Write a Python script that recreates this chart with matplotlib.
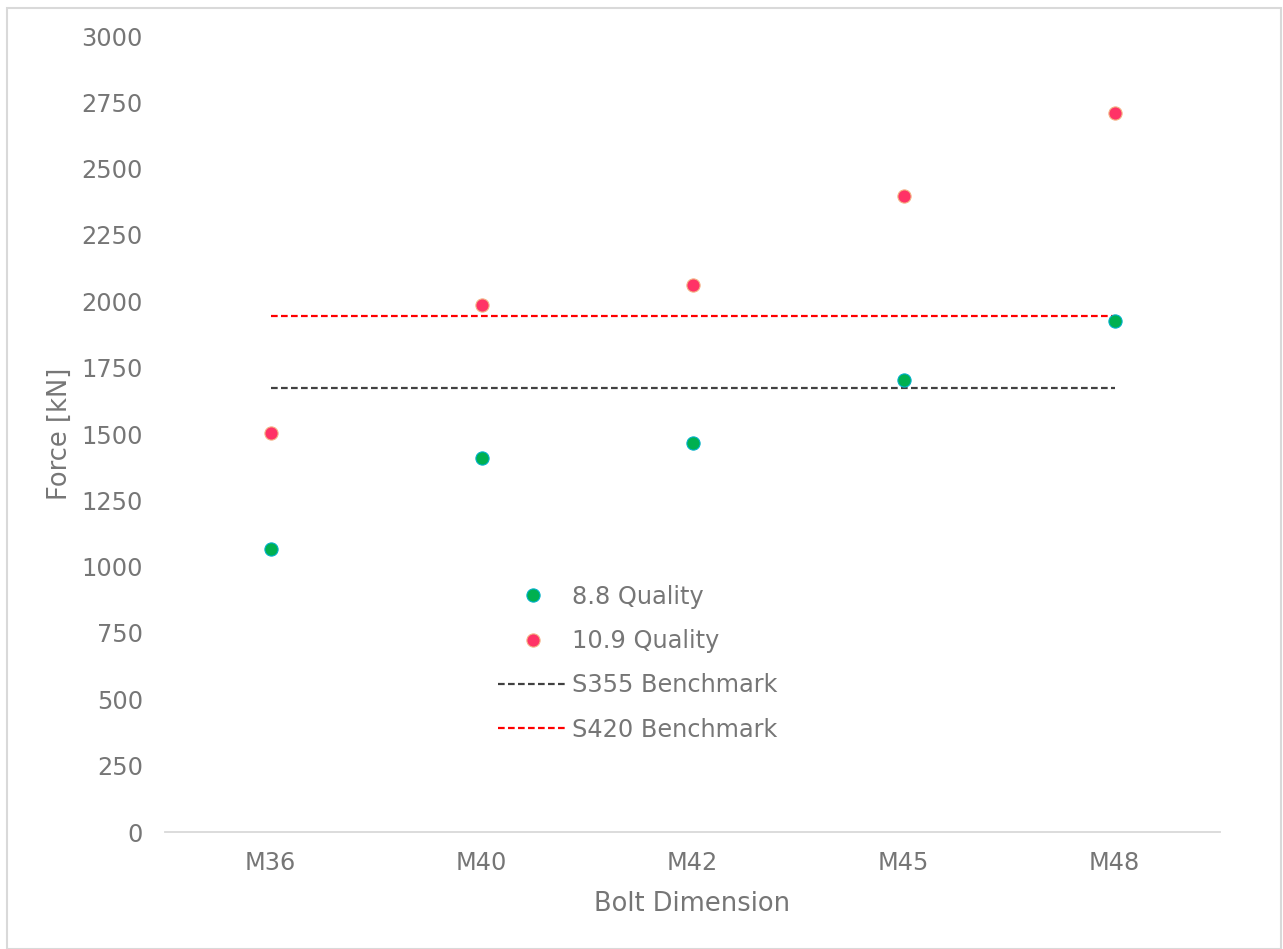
import matplotlib
matplotlib.use("Agg")
import matplotlib.pyplot as plt
from matplotlib.patches import Rectangle

# ── Données ──────────────────────────────────────────────────────────────────
bolts      = ["M36", "M40", "M42", "M45", "M48"]
q88        = [1067, 1410, 1466, 1704, 1926]
q109       = [1504, 1986, 2062, 2397, 2710]
s355_bench = 1673
s420_bench = 1945
yticks     = list(range(0, 3001, 250))

TXT = "#767676"

# ── Figure ───────────────────────────────────────────────────────────────────
fig = plt.figure(figsize=(12.83, 9.49), dpi=100)
ax  = fig.add_axes([165 / 1283, 1 - 832 / 949, 1055 / 1283, 796 / 949])

x = list(range(len(bolts)))
ax.plot(x, [s355_bench] * len(x), ls=(0, (3, 1.5)), color="#404040", lw=1.6,
        label="S355 Benchmark", zorder=2)
ax.plot(x, [s420_bench] * len(x), ls=(0, (3, 1.5)), color="#ff0000", lw=1.6,
        label="S420 Benchmark", zorder=2)
ax.plot(x, q88, ls="none", marker="o", ms=9.5, mfc="#00b050", mec="#00b0c8",
        mew=0.8, label="8.8 Quality", zorder=3)
ax.plot(x, q109, ls="none", marker="o", ms=9.5, mfc="#ff3366", mec="#f4b183",
        mew=0.8, label="10.9 Quality", zorder=3)

ax.set_xlim(-0.5, len(bolts) - 0.5)
ax.set_ylim(0, 3000)
ax.set_xticks(x)
ax.set_xticklabels(bolts)
ax.set_yticks(yticks)
ax.tick_params(length=0, labelsize=17.3, labelcolor=TXT)
ax.tick_params(axis="y", pad=16)
ax.tick_params(axis="x", pad=14)

for s in ("top", "right", "left"):
    ax.spines[s].set_visible(False)
ax.spines["bottom"].set_color("#d9d9d9")
ax.spines["bottom"].set_linewidth(1.3)

ax.set_xlabel("Bolt Dimension", fontsize=18.5, color=TXT, labelpad=11)
ax.set_ylabel("Force [kN]", fontsize=18.5, color=TXT, labelpad=6)

h, l = ax.get_legend_handles_labels()
order = [2, 3, 0, 1]
leg = ax.legend([h[i] for i in order], [l[i] for i in order],
                loc="center", bbox_to_anchor=(0.448, 0.212), frameon=False,
                fontsize=17.3, labelcolor=TXT, handlelength=2.9,
                handletextpad=0.2, labelspacing=0.85)

# cadre de la zone graphique
fig.patches.append(Rectangle((7 / 1283, 0.0), 1 - 9 / 1283, 1 - 8 / 949,
                             transform=fig.transFigure, fill=False,
                             edgecolor="#d9d9d9", lw=1.5))

fig.savefig("out.png", dpi=100, facecolor="white")
